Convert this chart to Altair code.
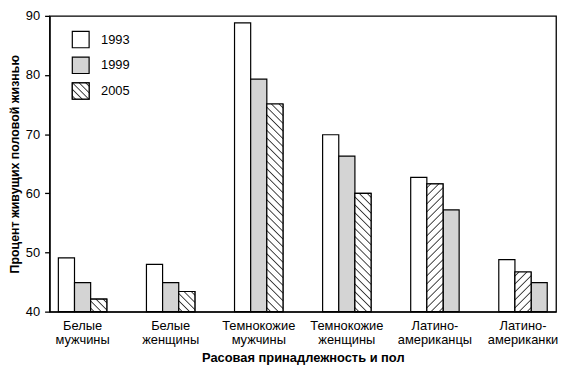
import math
import altair as alt
import pandas as pd

# ---------------- data ----------------
categories = ["Белые мужчины", "Белые женщины", "Темнокожие мужчины",
              "Темнокожие женщины", "Латино-американцы", "Латино-американки"]
years = ["1993", "1999", "2005"]
v1993 = [49.1, 48.0, 88.8, 69.9, 62.7, 48.8]
v1999 = [44.9, 44.9, 79.3, 66.3, 57.2, 44.9]
v2005 = [42.1, 43.4, 75.1, 60.0, 61.6, 46.7]
# position of each series' bar inside its group, as drawn
slot1993 = [1, 1, 1, 1, 1, 1]
slot1999 = [2, 2, 2, 2, 3, 3]
slot2005 = [3, 3, 3, 3, 2, 2]

# ---------------- styling ----------------
FONT = "Liberation Sans"
W, H = 512, 299
Y0, Y1 = 40, 90
P_IN, P_OUT = 0.45, 0.1
GRAY = "#d4d4d4"
fill_of = {"1993": "white", "1999": GRAY, "2005": "white"}
hatch_dir = ["back", "back", "back", "back", "fwd", "fwd"]

rows = []
for i, c in enumerate(categories):
    for yr, vals, slots in (("1993", v1993, slot1993), ("1999", v1999, slot1999),
                            ("2005", v2005, slot2005)):
        rows.append({"group": c, "year": yr, "value": vals[i], "slot": str(slots[i]),
                     "col": fill_of[yr], "gi": i})
df = pd.DataFrame(rows)

step = W / (len(categories) - P_IN + 2 * P_OUT)
bar_w = step * (1 - P_IN) / 3
px_per_unit = H / (Y1 - Y0)


def hatch(w, h, direction, spacing=5.6, half=0.9, dark="#333333"):
    s = (w + h) / (w * w + h * h)
    if direction == "back":
        x1, y1, x2, y2 = 0, 1, s * w, 1 - s * h
    else:
        x1, y1, x2, y2 = 0, 0, s * w, s * h
    L = (w + h) / math.sqrt(2)
    n = max(1, round(L / spacing))
    d = half / L
    stops = [{"offset": 0, "color": "white"}]
    for k in range(n):
        c = (k + 0.5) / n
        stops += [{"offset": max(0, c - d), "color": "white"},
                  {"offset": c, "color": dark},
                  {"offset": min(1, c + d), "color": "white"}]
    stops.append({"offset": 1, "color": "white"})
    return {"gradient": "linear", "x1": x1, "y1": y1, "x2": x2, "y2": y2, "stops": stops}


x_enc = alt.X("group:N", sort=categories,
              scale=alt.Scale(paddingInner=P_IN, paddingOuter=P_OUT),
              axis=alt.Axis(title="Расовая принадлежность и пол", ticks=False,
                            labelAngle=0, labelPadding=8, labelFontSize=13,
                            labelLineHeight=14.5, labelColor="black", labelFont=FONT,
                            labelExpr="split(replace(datum.label, '-', '- '), ' ')",
                            titleFont=FONT, titleFontSize=13, titleFontWeight="bold",
                            titleColor="black", titleY=46, titleBaseline="middle",
                            domainColor="black", domainWidth=1.3))
xo_enc = alt.XOffset("slot:N", scale=alt.Scale(domain=["1", "2", "3"],
                                                paddingInner=0, paddingOuter=0))
y_enc = alt.Y("value:Q", scale=alt.Scale(domain=[Y0, Y1], zero=False, nice=False),
              axis=alt.Axis(title="Процент живущих половой жизнью",
                            values=[40, 50, 60, 70, 80, 90], grid=False,
                            tickSize=5, tickColor="black", tickWidth=1.3,
                            labelPadding=5, labelFontSize=13, labelColor="black",
                            labelFont=FONT, titleFont=FONT, titleFontSize=12.5,
                            titleFontWeight="bold", titleColor="black",
                            titleX=-35, titleAngle=270,
                            titleAlign="center", titleBaseline="middle",
                            domainColor="black", domainWidth=1.3))

base = alt.Chart(df).mark_bar(stroke="black", strokeWidth=1.2).encode(
    x=x_enc, xOffset=xo_enc, y=y_enc, y2=alt.datum(Y0),
    fill=alt.Fill("col:N", scale=None),
)

layers = [base]
for i, c in enumerate(categories):
    h = (v2005[i] - Y0) * px_per_unit
    lay = alt.Chart(df).transform_filter(
        f"datum.gi == {i} && datum.year == '2005'"
    ).mark_bar(stroke="black", strokeWidth=1.2).encode(
        x=alt.X("group:N", sort=categories), xOffset=alt.XOffset("slot:N"),
        y=alt.Y("value:Q"), y2=alt.datum(Y0),
        fill=alt.value(hatch(bar_w, h, hatch_dir[i])),
    )
    layers.append(lay)

# ---------------- manual legend ----------------
LX, LW, LH, LSTEP, LTOP = 23, 17, 16.5, 26, 24
leg = pd.DataFrame({"year": years, "col": [fill_of[y] for y in years]})
leg["yc"] = [LTOP + k * LSTEP for k in range(len(years))]
leg["yt"] = leg["yc"] - LH / 2
leg["yb"] = leg["yc"] + LH / 2
leg_boxes = alt.Chart(leg).mark_rect(stroke="black", strokeWidth=1.2).encode(
    x=alt.value(LX), x2=alt.value(LX + LW),
    y=alt.Y("yt:Q", scale=None), y2=alt.Y2("yb:Q"),
    fill=alt.Fill("col:N", scale=None),
)
leg_hatch = alt.Chart(leg).transform_filter("datum.year == '2005'").mark_rect(
    stroke="black", strokeWidth=1.2).encode(
    x=alt.value(LX), x2=alt.value(LX + LW),
    y=alt.Y("yt:Q", scale=None), y2=alt.Y2("yb:Q"),
    fill=alt.value(hatch(LW, LH, "back", spacing=5.0)),
)
leg_text = alt.Chart(leg).mark_text(align="left", baseline="middle", fontSize=13,
                                    font=FONT, color="black").encode(
    x=alt.value(LX + 29), y=alt.Y("yc:Q", scale=None), text="year:N",
)

chart = alt.layer(*layers, leg_boxes, leg_hatch, leg_text).properties(
    width=W, height=H,
    autosize=alt.AutoSizeParams(type="none"),
    padding={"left": 42, "top": 6, "right": 4, "bottom": 52},
).configure_view(stroke="black", strokeWidth=1.3).configure_axis(grid=False)

chart.save("out.html", embed_options={"renderer": "svg", "actions": False})
